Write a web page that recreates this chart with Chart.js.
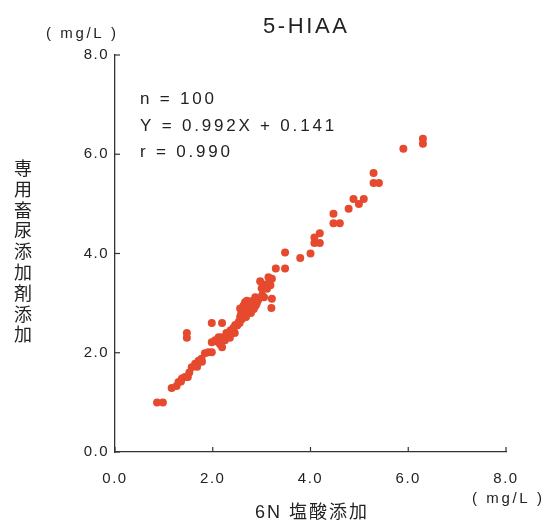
<!DOCTYPE html>
<html>
<head>
<meta charset="UTF-8">
<title>5-HIAA</title>
<script src="https://cdn.jsdelivr.net/npm/chart.js@4.4.0/dist/chart.umd.min.js"></script>
<style>
	body { margin: 0; background: #fff; }
	#wrap { position: relative; width: 549px; height: 526px; }
</style>
</head>
<body>
	<div id="wrap"><canvas id="myChart" width="549" height="526"></canvas></div>

	<script>
		// 6N 塩酸添加 (x) / 専用畜尿添加剤添加 (y), mg/L
		const xValues = [
			0.86, 0.98, 1.16, 1.26, 1.30, 1.37, 1.43, 1.49, 1.57, 1.64,
			1.68, 1.71, 1.77, 1.84, 1.91, 1.98, 1.47, 1.47, 1.98, 2.19,
			1.98, 2.05, 2.12, 2.19, 2.25, 2.19, 2.15, 2.30, 2.36, 2.42,
			2.46, 2.53, 2.56, 2.60, 2.60, 2.56, 2.63, 2.66, 2.70, 2.77,
			2.80, 2.73, 2.66, 2.70, 2.87, 2.94, 3.01, 2.90, 2.84, 3.04,
			3.11, 3.18, 3.21, 3.14, 2.97, 3.21, 3.20, 3.29, 3.48, 3.48,
			3.79, 4.00, 4.08, 4.08, 4.19, 4.19, 4.47, 4.47, 4.60, 4.78,
			4.88, 4.99, 5.09, 5.29, 5.29, 5.40, 5.90, 6.30, 6.30, 2.40,
			2.50, 2.62, 2.75, 2.82, 2.92, 3.05, 2.35, 2.45, 2.55, 2.68,
			2.78, 3.00, 3.10, 2.58, 2.88, 1.78, 1.52, 1.35, 2.28, 2.10
		];
		const yValues = [
			1.00, 1.00, 1.29, 1.33, 1.41, 1.48, 1.51, 1.51, 1.71, 1.78,
			1.72, 1.84, 1.88, 1.99, 2.01, 2.01, 2.40, 2.30, 2.60, 2.60,
			2.21, 2.25, 2.31, 2.31, 2.25, 2.11, 2.17, 2.35, 2.45, 2.50,
			2.56, 2.62, 2.72, 2.68, 2.82, 2.89, 2.95, 3.02, 3.05, 3.02,
			2.95, 2.85, 2.79, 2.90, 3.12, 3.09, 3.16, 3.00, 2.88, 3.32,
			3.29, 3.36, 3.49, 3.52, 3.44, 3.09, 2.90, 3.70, 3.70, 4.02,
			3.91, 4.00, 4.32, 4.21, 4.21, 4.41, 4.80, 4.61, 4.61, 4.90,
			5.10, 5.00, 5.10, 5.62, 5.42, 5.42, 6.11, 6.31, 6.21, 2.42,
			2.55, 2.75, 2.92, 3.05, 3.05, 3.12, 2.30, 2.40, 2.60, 2.72,
			2.80, 3.30, 3.38, 2.78, 2.95, 1.82, 1.60, 1.42, 2.40, 2.22
		];
		const tickValues = [0, 2, 4, 6, 8];
		const titleText = '5-HIAA';
		const statLines = ['n = 100', 'Y = 0.992X + 0.141', 'r = 0.990'];
		const xTitle = '6N 塩酸添加';
		const yTitle = '専用畜尿添加剤添加';
		const unitText = '( mg/L )';

		const latin = '"Liberation Sans", Arial, sans-serif';
		const mixed = '"Liberation Sans", "Noto Sans CJK JP", sans-serif';

		// 目盛り(内向き)と文字の描画
		const decor = {
			id: 'decor',
			beforeDraw(chart) {
				chart.ctx.letterSpacing = '1.5px';
			},
			afterDraw(chart) {
				const ctx = chart.ctx;
				const xs = chart.scales.x, ys = chart.scales.y;
				const area = chart.chartArea;
				ctx.save();
				ctx.strokeStyle = '#333';
				ctx.lineWidth = 1.2;
				tickValues.forEach(v => {
					const px = xs.getPixelForValue(v);
					const py = ys.getPixelForValue(v);
					ctx.beginPath(); ctx.moveTo(px, area.bottom); ctx.lineTo(px, area.bottom - 5); ctx.stroke();
					ctx.beginPath(); ctx.moveTo(area.left, py); ctx.lineTo(area.left + 5, py); ctx.stroke();
				});

				ctx.fillStyle = '#222';
				ctx.textBaseline = 'alphabetic';

				ctx.font = '22px ' + latin;
				ctx.letterSpacing = '2.6px';
				ctx.textAlign = 'left';
				ctx.fillText(titleText, 263, 33);

				ctx.font = '15px ' + latin;
				ctx.letterSpacing = '2.6px';
				ctx.fillText(unitText, 46, 38);
				ctx.fillText(unitText, 472, 503);

				ctx.font = '17px ' + latin;
				ctx.letterSpacing = '2.8px';
				statLines.forEach((s, i) => ctx.fillText(s, 140, 104 + i * 26.5));

				ctx.font = '18px ' + mixed;
				ctx.letterSpacing = '2px';
				ctx.textAlign = 'center';
				ctx.fillText(xTitle, 312, 518);

				ctx.letterSpacing = '0px';
				ctx.textBaseline = 'middle';
				Array.from(yTitle).forEach((c, i) => ctx.fillText(c, 23, 170 + i * 20.8));
				ctx.restore();
			}
		};

		new Chart('myChart', {
			type: 'scatter',
			data: {
				datasets: [{
					data: xValues.map((x, i) => ({ x: x, y: yValues[i] })),
					backgroundColor: '#e64a2e',
					borderWidth: 0,
					pointRadius: 4,
					pointHoverRadius: 4
				}]
			},
			options: {
				responsive: false,
				animation: false,
				events: [],
				layout: { padding: { top: 55, right: 43, bottom: 0, left: 0 } },
				plugins: { legend: { display: false }, tooltip: { enabled: false } },
				scales: {
					x: {
						type: 'linear', min: 0, max: 8,
						afterBuildTicks: s => { s.ticks = tickValues.map(v => ({ value: v })); },
						afterFit: s => { s.height = 74; },
						grid: { display: false, drawTicks: false },
						border: { display: true, color: '#333', width: 1.3 },
						ticks: { callback: v => v.toFixed(1), color: '#222', padding: 18, maxRotation: 0,
							font: { size: 15, family: latin } }
					},
					y: {
						type: 'linear', min: 0, max: 8,
						afterBuildTicks: s => { s.ticks = tickValues.map(v => ({ value: v })); },
						afterFit: s => { s.width = 115; },
						grid: { display: false, drawTicks: false },
						border: { display: true, color: '#333', width: 1.3 },
						ticks: { callback: v => v.toFixed(1), color: '#222', padding: 6,
							font: { size: 15, family: latin } }
					}
				}
			},
			plugins: [decor]
		});
	</script>
</body>
</html>
